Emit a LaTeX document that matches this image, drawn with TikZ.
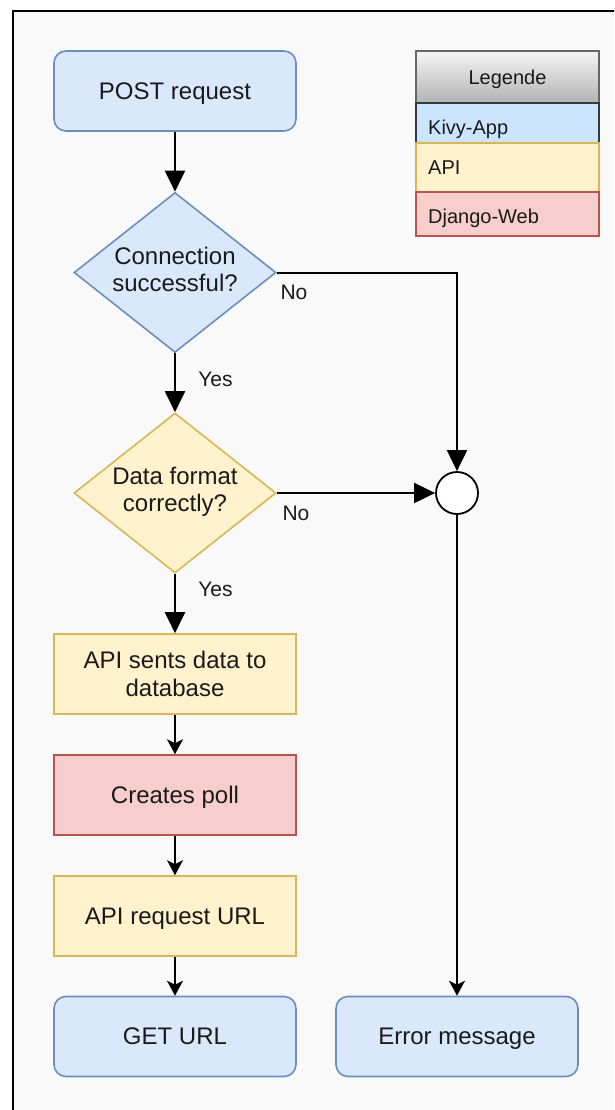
\documentclass[tikz,border=0pt]{standalone}
\usepackage{fontspec}
\setmainfont{Liberation Sans}
\usetikzlibrary{shapes.geometric,arrows.meta}

\definecolor{canvas}{HTML}{F9F9F9}
\definecolor{kivyfill}{HTML}{DAE8FC}
\definecolor{kivyline}{HTML}{6C8EBF}
\definecolor{apifill}{HTML}{FFF2CC}
\definecolor{apiline}{HTML}{D6B656}
\definecolor{djfill}{HTML}{F8CECC}
\definecolor{djline}{HTML}{B85450}
\definecolor{legkivy}{HTML}{CCE5FF}
\definecolor{legkivyline}{HTML}{36393D}
\definecolor{legtop}{HTML}{F5F5F5}
\definecolor{legbot}{HTML}{B3B3B3}
\definecolor{legline}{HTML}{666666}
\definecolor{ink}{HTML}{1A1A1A}

\tikzset{
  bigfont/.style={font=\fontsize{24}{28}\selectfont},
  smallfont/.style={font=\fontsize{20}{24}\selectfont},
  labelfont/.style={font=\fontsize{21}{25}\selectfont},
  box/.style={rectangle, line width=1.6pt, minimum width=242pt, minimum height=80pt,
              inner sep=0pt, align=center, text=ink, bigfont},
  oneline/.style={text height=21.7pt, text depth=5.1pt},
  kivybox/.style={box, rounded corners=12pt, draw=kivyline, fill=kivyfill},
  apibox/.style={box, draw=apiline, fill=apifill},
  djbox/.style={box, draw=djline, fill=djfill},
  decision/.style={diamond, aspect=1.26, line width=1.6pt, minimum width=202pt,
              minimum height=160pt, inner sep=0pt, align=center, text=ink, bigfont},
  merge/.style={circle, draw=black, fill=white, line width=1.8pt, minimum size=42pt, inner sep=0pt},
  lbl/.style={text=ink, labelfont, inner sep=0pt},
  blockarrow/.style={-{Triangle[length=21pt,width=20pt]}, line width=2pt},
  thinarrow/.style={-{Stealth[length=15pt,width=16pt,inset=4pt]}, line width=2pt},
  legrow/.style={rectangle, line width=1.6pt, minimum width=183pt, inner sep=0pt},
  legtext/.style={anchor=base west, inner sep=0pt, text=ink, smallfont},
}

\begin{document}
\begin{tikzpicture}[x=1pt,y=-1pt]
\useasboundingbox (0,0) rectangle (614,1110);
\fill[white] (0,0) rectangle (614,1110);

% page frame, running past the right and bottom edges
\begin{scope}
  \clip (0,0) rectangle (614,1110);
  \draw[line width=2pt, fill=canvas] (13,11) rectangle (650,1150);
\end{scope}

% legend
\node[legrow, draw=legline, top color=legtop, bottom color=legbot, minimum height=52pt]
      (lhead) at (507.5,77) {};
\node[legrow, draw=legkivyline, fill=legkivy, minimum height=40pt] (lkivy) at (507.5,123.3) {};
\node[legrow, draw=apiline, fill=apifill, minimum height=48.4pt] (lapi) at (507.5,167.5) {};
\node[legrow, draw=djline, fill=djfill, minimum height=44.3pt] (ldj) at (507.5,213.9) {};
\node[anchor=base, inner sep=0pt, text=ink, smallfont] (tlegend) at (507.5,85) {Legende};
\node[legtext] (tkivy) at (428,135) {Kivy-App};
\node[legtext] (tapi) at (428,175) {API};
\node[legtext] (tdj) at (428,223) {Django-Web};

% flow
\node[kivybox, oneline] (post) at (175,91) {POST request};
\node[decision, draw=kivyline, fill=kivyfill] (d1) at (175,272.5) {Connection\\[-1pt]successful?\\[-21pt]};
\node[decision, draw=apiline, fill=apifill] (d2) at (175,493) {Data format\\[-1pt]correctly?\\[-21pt]};
\node[apibox] (api1) at (175,674) {API sents data to\\database};
\node[djbox, oneline] (poll) at (175,795) {Creates poll};
\node[apibox, oneline] (api2) at (175,916) {API request URL};
\node[kivybox, oneline] (get) at (175,1036.5) {GET URL};
\node[kivybox, oneline] (err) at (457,1036.5) {Error message};
\node[merge] (join) at (457,493) {};

% connectors
\draw[blockarrow] (post) -- (d1);
\draw[blockarrow] (d1) -- (d2);
\draw[blockarrow] (d2) -- (api1);
\draw[blockarrow] (d1.east) -| (join.north);
\draw[blockarrow] (d2.east) -- (join.west);
\draw[thinarrow] (api1) -- (poll);
\draw[thinarrow] (poll) -- (api2);
\draw[thinarrow] (api2) -- (get);
\draw[thinarrow] (join) -- (err);

% branch labels
\node[lbl] (yes1) at (215.5,379) {Yes};
\node[lbl] (yes2) at (215.5,589) {Yes};
\node[lbl] (no1) at (294,292) {No};
\node[lbl] (no2) at (296,513) {No};
\end{tikzpicture}
\end{document}
